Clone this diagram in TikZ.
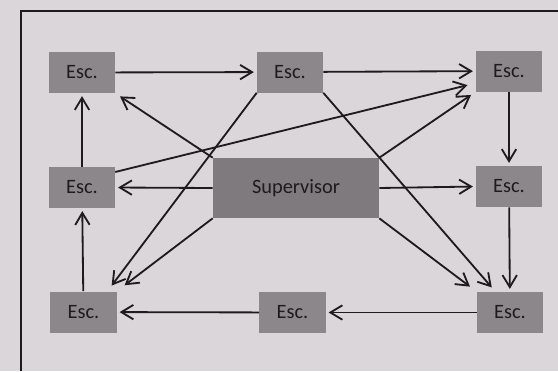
\documentclass[tikz,border=0pt]{standalone}
\usepackage{fontspec}
\setmainfont{Carlito}
\usetikzlibrary{arrows.meta}

\definecolor{paper}{HTML}{DAD6D9}
\definecolor{boxgray}{HTML}{8C878A}
\definecolor{supgray}{HTML}{7F7A7D}
\definecolor{ink}{HTML}{1E1B1D}

\begin{document}
\begin{tikzpicture}[x=0.025cm, y=-0.025cm,
		esc/.style={fill=boxgray, minimum width=1.65cm, minimum height=1.025cm, inner sep=0pt, text=ink, font=\fontsize{14.5}{16}\selectfont},
		supbox/.style={esc, fill=supgray, minimum width=4.15cm, minimum height=1.5cm},
		link/.style={draw=ink, line width=1.3pt, -{Straight Barb[length=3mm,width=3.6mm]}, shorten >=2pt}]
				% Paper and frame
				\fill[paper] (0,0) rectangle (558,371);
				\useasboundingbox (0,0) rectangle (558,371);
				\draw[ink, line width=1pt] (21,371) -- (21,11) -- (558,11);
				
				% Boxes
				\node[esc] (tl) at (82,72.5) {Esc.};
				\node[esc] (tm) at (290,72) {Esc.};
				\node[esc] (tr) at (509,71) {Esc.};
				
				\node[esc] (ml) at (82,187.5) {Esc.};
				\node[supbox] (sup) at (296,188) {Supervisor};
				\node[esc] (mr) at (509,186.5) {Esc.};
				
				\node[esc] (bl) at (83.5,312) {Esc.};
				\node[esc] (bm) at (292.5,312.5) {Esc.};
				\node[esc] (br) at (510,312.5) {Esc.};
				
				% Ring of arrows
				\draw[link] (tl) -- (tm);
				\draw[link] (tm) -- (tr);
				\draw[link] (tr) -- (mr);
				\draw[link] (mr) -- (br);
				\draw[link] (br) -- (bm);
				\draw[link] (bm) -- (bl);
				\draw[link] (bl) -- (ml);
				\draw[link] (ml) -- (tl);
				
				% From the supervisor
				\draw[link] (sup.west) -- (ml.east);
				\draw[link] (sup.east) -- (mr.west);
				\draw[link, shorten >=4pt] (sup.north west) -- (tl.south east);
				\draw[link, shorten >=4pt] (sup.north east) -- (tr.south west);
				\draw[link, shorten >=7pt] (sup.south west) -- (bl.north east);
				\draw[link, shorten >=6pt] (sup.south east) -- (br.north west);
				
				% Crossing lines
				\draw[link, shorten >=5pt] (tm.south west) -- (bl.41);
				\draw[link, shorten >=4pt] (tm.south east) -- (br.125);
				\draw[link, shorten >=6pt] (ml.25) -- (tr.200);
			\end{tikzpicture}
\end{document}
